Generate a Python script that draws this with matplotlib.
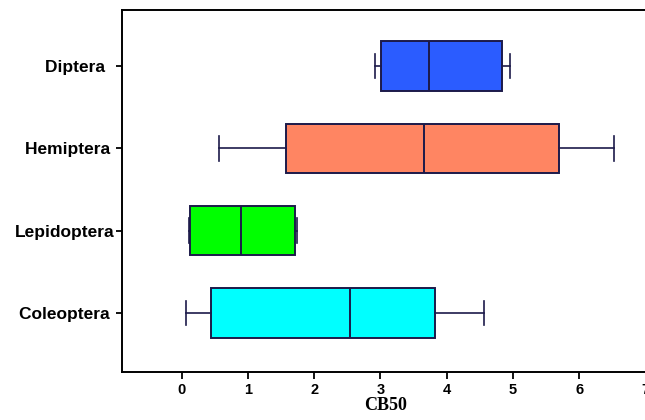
import matplotlib
matplotlib.use("Agg")
import matplotlib.pyplot as plt

# box summary per order (bottom -> top)
ORDERS  = ["Coleoptera", "Lepidoptera", "Hemiptera", "Diptera"]
LABELS  = ["Coleoptera ", "Lepidoptera", "Hemiptera ", "Diptera  "]
WHISLO  = [0.06, 0.11, 0.57, 2.92]
Q1      = [0.45, 0.13, 1.58, 3.01]
MED     = [2.54, 0.90, 3.65, 3.73]
Q3      = [3.82, 1.71, 5.69, 4.83]
WHISHI  = [4.56, 1.74, 6.53, 4.96]
COLORS  = ["#00ffff", "#00ff00", "#ff8562", "#2b5cff"]
XTICKS  = [0, 1, 2, 3, 4, 5, 6, 7]
EDGE    = "#1c1a4a"

stats = [dict(whislo=a, q1=b, med=c, q3=d, whishi=e, fliers=[], label=l)
         for a, b, c, d, e, l in zip(WHISLO, Q1, MED, Q3, WHISHI, LABELS)]

fig = plt.figure(figsize=(6.45, 4.2), dpi=100)
ax = fig.add_axes([0.189, 0.114, 0.817, 0.862])

pos = list(range(1, len(ORDERS) + 1))
bp = ax.bxp(stats, positions=pos, vert=False, widths=0.6, patch_artist=True,
            showfliers=False,
            boxprops=dict(edgecolor=EDGE, linewidth=1.4),
            medianprops=dict(color=EDGE, linewidth=1.4),
            whiskerprops=dict(color=EDGE, linewidth=1.2),
            capprops=dict(color=EDGE, linewidth=1.2),
            capwidths=0.3)
for patch, c in zip(bp["boxes"], COLORS):
    patch.set_facecolor(c)

ax.set_xlim(-0.9, 7.05)
ax.set_ylim(0.28, 4.68)
ax.set_xticks(XTICKS)
ax.set_xticklabels([str(t) for t in XTICKS], family="Liberation Sans",
                   fontweight="bold", fontsize=10.5)
ax.set_yticks(pos)
ax.set_yticklabels(LABELS, family="Liberation Sans", fontweight="bold",
                   fontsize=12.5)
ax.tick_params(axis="x", length=5, width=1.3, pad=3)
ax.tick_params(axis="y", length=4, width=1.3, pad=1)
ax.spines["right"].set_visible(False)
for s in ["left", "top", "bottom"]:
    ax.spines[s].set_linewidth(1.4)
ax.set_xlabel("CB50", family="Liberation Serif", fontweight="bold",
              fontsize=13, labelpad=0)

fig.savefig("out.png", dpi=100)
